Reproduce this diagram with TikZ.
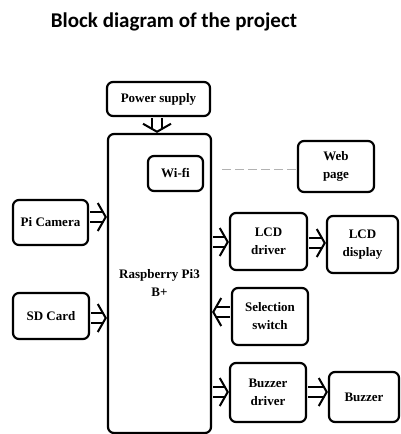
\documentclass[tikz,border=0pt]{standalone}
\usepackage{fontspec}
\setmainfont{Liberation Serif}
\newfontfamily\boxfont{Liberation Serif}
\newfontfamily\titlefont{Carlito}
\usetikzlibrary{arrows.meta}
\begin{document}
\begin{tikzpicture}[x=1pt,y=-1pt,
  blk/.style={draw, line width=2.2pt, rounded corners=6pt, align=center,
    inner sep=0pt, font=\boxfont\fontsize{13}{18}\selectfont\bfseries},
  shaft/.style={double, double distance=8pt, line width=2pt, shorten <=1pt, shorten >=4pt},
  tip/.style={white, line width=1pt, shorten <=2pt,
    -{Straight Barb[black, length=8pt, width=28pt, line width=2pt]}},
  dline/.style={gray!60, line width=1pt, dash pattern=on 9pt off 4pt}]
\useasboundingbox (0,0) rectangle (400,434);
\node[font=\titlefont\fontsize{21}{24}\selectfont\bfseries] (title) at (174,22) {Block diagram of the project};
\node[blk, minimum width=103pt, minimum height=34pt] (ps) at (158.5,99) {Power supply};
\node[blk, minimum width=103pt, minimum height=299pt] (rpi) at (159.5,283.5) {Raspberry Pi3\\B+};
\node[blk, minimum width=55pt, minimum height=35pt] (wifi) at (175.5,173.5) {Wi-fi};
\node[blk, minimum width=76pt, minimum height=51pt] (web) at (336,166.5) {Web\\page};
\node[blk, minimum width=75pt, minimum height=45pt] (cam) at (50.5,222.5) {Pi Camera};
\node[blk, minimum width=76pt, minimum height=46pt] (sd) at (51,316) {SD Card};
\node[blk, minimum width=77pt, minimum height=57pt] (lcdd) at (268.5,241.5) {LCD\\driver};
\node[blk, minimum width=71pt, minimum height=57pt] (lcd) at (362.5,244.5) {LCD\\display};
\node[blk, minimum width=76pt, minimum height=57pt] (sel) at (270,316.5) {Selection\\switch};
\node[blk, minimum width=76pt, minimum height=59pt] (bzd) at (268,392.5) {Buzzer\\driver};
\node[blk, minimum width=70pt, minimum height=50pt] (bz) at (364,397) {Buzzer};
\coordinate (d1) at (222,169);
\draw[dline] (d1) -- (web.west |- d1);
\foreach \s in {shaft,tip}{
  \draw[\s] (ps.south -| 157,0) -- (rpi.north -| 157,0);
  \draw[\s] (cam.east |- 0,217) -- (rpi.west |- 0,217);
  \draw[\s] (sd.east |- 0,318) -- (rpi.west |- 0,318);
  \draw[\s] (rpi.east |- 0,242) -- (lcdd.west |- 0,242);
  \draw[\s] (lcdd.east |- 0,243) -- (lcd.west |- 0,243);
  \draw[\s] (sel.west |- 0,312) -- (rpi.east |- 0,312);
  \draw[\s] (rpi.east |- 0,392) -- (bzd.west |- 0,392);
  \draw[\s] (bzd.east |- 0,392) -- (bz.west |- 0,392);
}
\end{tikzpicture}
\end{document}
